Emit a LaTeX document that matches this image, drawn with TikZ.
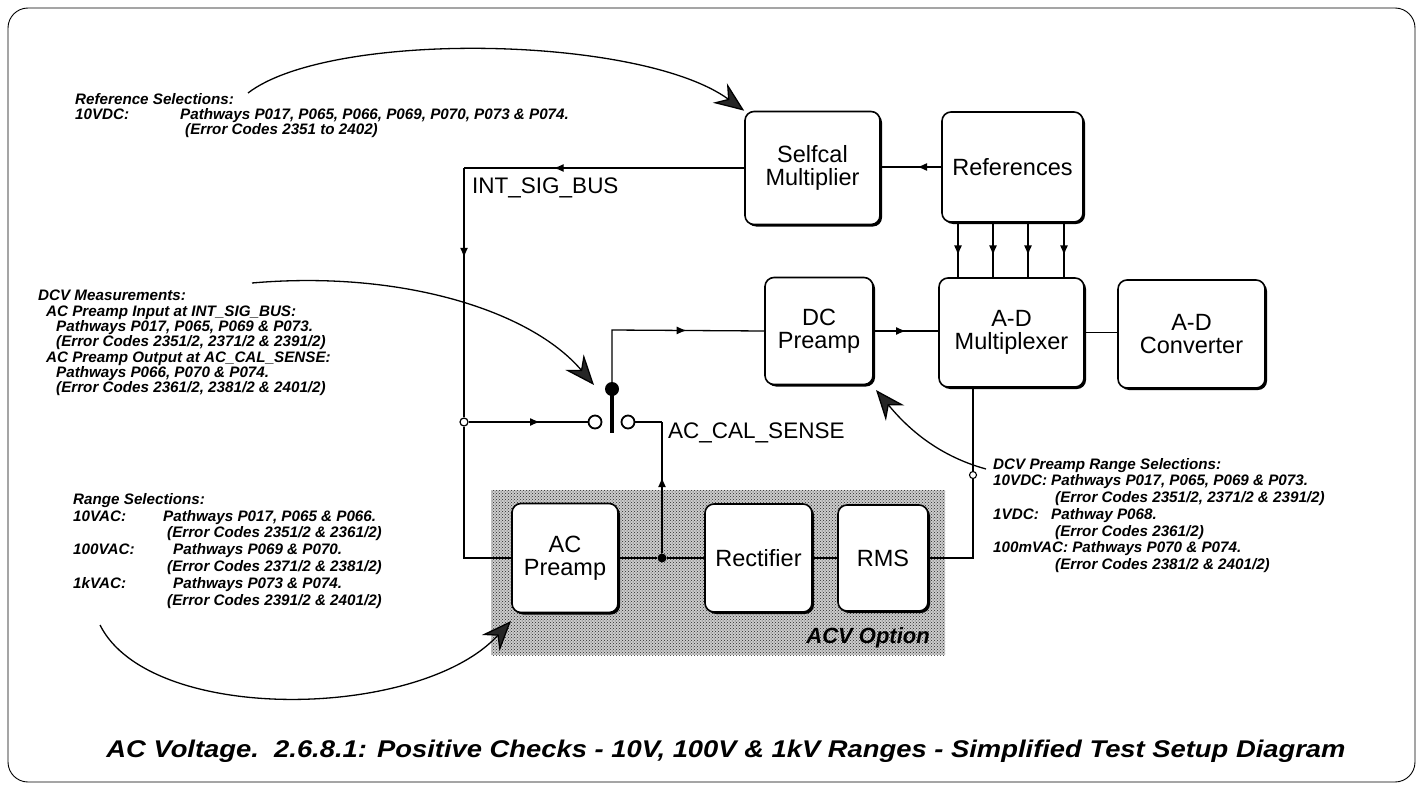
\documentclass[tikz,border=0pt]{standalone}
\usepackage{fontspec}
\setmainfont{Liberation Sans}
\usetikzlibrary{arrows.meta,shadows,patterns,decorations.markings}
\begin{document}
\begin{tikzpicture}[x=1pt,y=-1pt,
  blk/.style={draw, line width=1.6pt, rounded corners=9pt, fill=white, align=center, inner sep=0pt,
    font=\fontsize{23.5}{23}\selectfont,
    general shadow={shadow xshift=2pt, shadow yshift=-2pt, fill=black}},
  wire/.style={line width=1.3pt},
  marr/.style={postaction={decorate},decoration={markings,mark=at position #1 with {\arrow{Latex[length=10pt,width=8pt]}}}},
  jopen/.style={circle, draw, fill=white, line width=1.2pt, minimum size=8pt, inner sep=0pt},
  jsmall/.style={circle, draw, fill=white, line width=1.1pt, minimum size=7pt, inner sep=0pt},
  jdot/.style={circle, fill=black, minimum size=9pt, inner sep=0pt},
  contact/.style={circle, draw, fill=white, line width=1.8pt, minimum size=13pt, inner sep=0pt},
  pivot/.style={circle, fill=black, minimum size=14pt, inner sep=0pt},
  callout/.style={line width=1.3pt, -{Stealth[length=30pt,width=24pt,inset=10pt,fill=black!85]}},
  ann/.style={font=\bfseries\itshape, align=left, anchor=north west, inner sep=0pt},
  wlbl/.style={font=\fontsize{22.5}{22}\selectfont, inner sep=0pt}
]
\useasboundingbox (0,0) rectangle (1420,789);
\draw[line width=0.9pt, rounded corners=20pt] (8,8) rectangle (1415,782);
% ACV option area
\path[fill=black!20] (491,490) rectangle (945,655);
\path[pattern=crosshatch dots, pattern color=black!85] (491,490) rectangle (945,655);
\node[font=\fontsize{22}{22}\selectfont\bfseries\itshape, anchor=base east, inner sep=0pt] (acvlbl) at (930,643) {ACV Option};

% blocks
\node[blk, minimum width=135pt, minimum height=113pt] (selfcal) at (812.5,168) {Selfcal\\Multiplier};
\node[blk, minimum width=141pt, minimum height=110pt] (refs) at (1012.5,167) {References};
\node[blk, minimum width=108pt, minimum height=107pt] (dcpre) at (819,331) {DC\\Preamp};
\node[blk, minimum width=145pt, minimum height=109pt] (admux) at (1011.5,332.5) {A-D\\Multiplexer};
\node[blk, minimum width=147pt, minimum height=108pt] (adconv) at (1191.5,334) {A-D\\Converter};
\node[blk, minimum width=106pt, minimum height=109pt] (acpre) at (565,558) {AC\\Preamp};
\node[blk, minimum width=107pt, minimum height=108pt] (rect) at (758.5,558) {Rectifier};
\node[blk, minimum width=90pt, minimum height=106pt] (rms) at (883,558) {RMS};

% junctions and switch
\coordinate (busT) at (464,168);
\coordinate (busB) at (464,558);
\node[jopen] (j1) at (464,422) {};
\node[contact] (swL) at (595,422) {};
\node[contact] (swR) at (628,422) {};
\coordinate (bladeEnd) at (612,433);
\draw[line width=3.5pt] (612,389) -- (bladeEnd);
\node[pivot] (swP) at (612,389) {};
\coordinate (acs) at (662,422);
\node[jdot] (j2) at (662,558) {};
\coordinate (pvT) at (612,330);
\coordinate (rmsC) at (973,558);
\node[jsmall] (j3) at (973,475) {};

% wires
\draw[wire, marr=0.68] (selfcal.west) -- (busT);
\draw[wire, marr=0.36] (busT) -- (j1);
\draw[wire] (j1) -- (busB) -- (acpre.west);
\draw[wire, marr=0.6] (j1) -- (swL);
\draw[wire] (swR) -- (acs);
\draw[wire, marr=0.58] (j2) -- (acs);
\draw[wire] (acpre.east) -- (j2);
\draw[wire] (j2) -- (rect.west);
\draw[wire] (rect.east) -- (rms.west);
\draw[wire] (rms.east) -- (rmsC) -- (j3);
\draw[wire] (j3) -- (j3 |- admux.south);
\draw[wire, marr=0.62] (swP) -- (pvT) -- (dcpre.west);
\draw[wire, marr=0.5] (dcpre.east) -- (admux.west |- dcpre.east);
\draw[wire] (admux.east) -- (adconv.west |- admux.east);
\draw[wire, marr=0.4] (refs.west) -- (selfcal.east |- refs.west);
\foreach \xx in {958,993,1028,1064}
  \draw[wire, marr=0.6] (\xx,0 |- refs.south) -- (\xx,0 |- admux.north);

% wire labels
\node[wlbl, anchor=west] (busl) at (472,188) {INT\_SIG\_BUS};
\node[wlbl, anchor=west] (acsl) at (668,433) {AC\_CAL\_SENSE};

% annotations
\node[ann, font=\fontsize{15.2}{15}\selectfont\bfseries\itshape] (t1) at (75,93) {Reference Selections:\\
\makebox[105pt][l]{10VDC:}Pathways P017, P065, P066, P069, P070, P073 \& P074.\\
\hspace*{110pt}(Error Codes 2351 to 2402)};

\node[ann, font=\fontsize{15.2}{15.3}\selectfont\bfseries\itshape] (t2) at (38,290) {DCV Measurements:\\
\hspace*{8pt}AC Preamp Input at INT\_SIG\_BUS:\\
\hspace*{18pt}Pathways P017, P065, P069 \& P073.\\
\hspace*{18pt}(Error Codes 2351/2, 2371/2 \& 2391/2)\\
\hspace*{8pt}AC Preamp Output at AC\_CAL\_SENSE:\\
\hspace*{18pt}Pathways P066, P070 \& P074.\\
\hspace*{18pt}(Error Codes 2361/2, 2381/2 \& 2401/2)};

\node[ann, font=\fontsize{15.2}{16.8}\selectfont\bfseries\itshape] (t3) at (73,493) {Range Selections:\\
\makebox[90pt][l]{10VAC:}Pathways P017, P065 \& P066.\\
\hspace*{94pt}(Error Codes 2351/2 \& 2361/2)\\
\makebox[100pt][l]{100VAC:}Pathways P069 \& P070.\\
\hspace*{94pt}(Error Codes 2371/2 \& 2381/2)\\
\makebox[100pt][l]{1kVAC:}Pathways P073 \& P074.\\
\hspace*{94pt}(Error Codes 2391/2 \& 2401/2)};

\node[ann, font=\fontsize{15.2}{16.7}\selectfont\bfseries\itshape] (t4) at (993,458) {DCV Preamp Range Selections:\\
\makebox[58pt][l]{10VDC:}Pathways P017, P065, P069 \& P073.\\
\hspace*{62pt}(Error Codes 2351/2, 2371/2 \& 2391/2)\\
\makebox[58pt][l]{1VDC:}Pathway P068.\\
\hspace*{62pt}(Error Codes 2361/2)\\
100mVAC: Pathways P070 \& P074.\\
\hspace*{62pt}(Error Codes 2381/2 \& 2401/2)};

% callout arrows
\coordinate (a1s) at (248,93);
\draw[callout] (a1s) .. controls (330,30) and (640,35) .. (selfcal.north west);
\coordinate (a2s) at (252,283);
\coordinate (a2e) at (594,385);
\draw[callout] (a2s) .. controls (400,270) and (530,310) .. (a2e);
\coordinate (a3s) at (100,625);
\coordinate (a3e) at (511,621);
\draw[callout] (a3s) .. controls (150,725) and (420,720) .. (a3e);
\coordinate (a4s) at (986,469);
\coordinate (a4e) at (876,390);
\draw[callout] (a4s) .. controls (935,455) and (905,425) .. (a4e);

% caption
\node[inner sep=0pt] (cap) at (726,751) {\scalebox{1.19}[1.05]{\fontsize{23}{23}\selectfont\bfseries\itshape AC Voltage.\ \ 2.6.8.1: Positive Checks - 10V, 100V \& 1kV Ranges - Simplified Test Setup Diagram}};
\end{tikzpicture}
\end{document}
